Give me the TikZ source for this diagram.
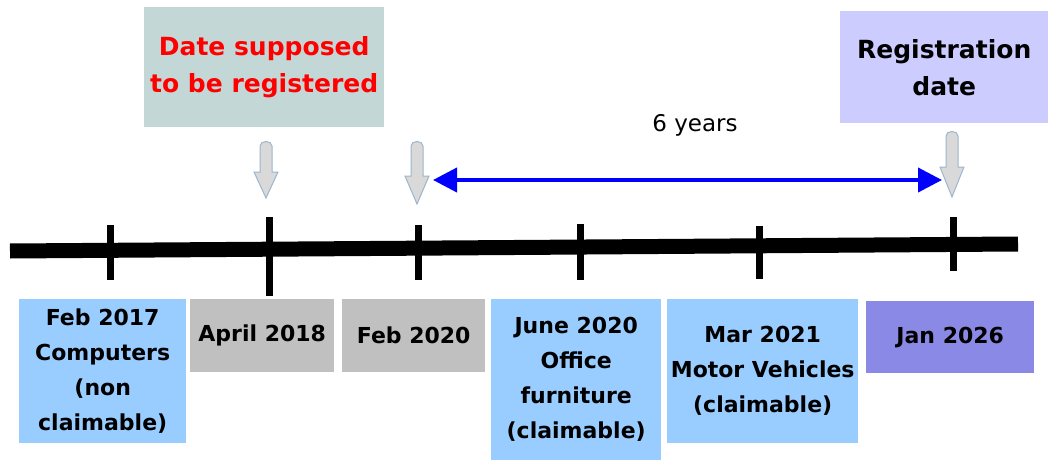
\documentclass[tikz,border=0pt]{standalone}
\usepackage{fontspec}
\setmainfont{DejaVu Sans}
\usetikzlibrary{arrows.meta}

\definecolor{notecyan}{HTML}{C3D7D7}
\definecolor{notelilac}{HTML}{CCCCFF}
\definecolor{claimblue}{HTML}{99CCFF}
\definecolor{pastgray}{HTML}{C0C0C0}
\definecolor{nowviolet}{HTML}{8A8AE6}
\definecolor{arrowgray}{HTML}{D9D9D9}
\definecolor{arrowedge}{HTML}{9DB5CC}

\begin{document}
\begin{tikzpicture}[x=1pt, y=-1pt]
    \tikzstyle{datebox} = [shape=rectangle, align=center, anchor=north west, inner sep=0pt, font=\bfseries\fontsize{22}{35}\selectfont]
    \tikzstyle{notebox} = [datebox, font=\bfseries\fontsize{25}{37}\selectfont]
    \tikzstyle{blockarr} = [fill=arrowgray, draw=arrowedge, line width=1pt]
    \tikzstyle{spanarrow} = [blue, line width=4pt, {Triangle[length=24pt, width=24pt]}-{Triangle[length=24pt, width=24pt]}]

    \useasboundingbox (0,0) rectangle (1050,460);

    \node[notebox, fill=notecyan, text=red, minimum width=240pt, minimum height=120pt] (supposed) at (144,7) {Date supposed\\to be registered};
    \node[notebox, fill=notelilac, minimum width=208pt, minimum height=112pt] (regdate) at (840,11) {Registration\\date};

    % pointers down to the timeline
    \foreach \x/\ya/\yb/\hd in {266/140/198/26, 417/140/204/28, 952/130/197/30}
        \draw[blockarr] (\x,\yb) -- (\x-12,\yb-\hd) -- (\x-6,\yb-\hd) -- (\x-6,\ya+6)
            .. controls (\x-6,\ya) and (\x+6,\ya) .. (\x+6,\ya+6) -- (\x+6,\yb-\hd) -- (\x+12,\yb-\hd) -- cycle;

    \coordinate (sixl) at (433,180);
    \coordinate (sixr) at (942,180);
    \draw[spanarrow] (sixl) -- (sixr);
    \node[font=\fontsize{23}{28}\selectfont] (sixyears) at (695,125) {6 years};

    % timeline
    \coordinate (tlstart) at (10,251);
    \coordinate (tlend)   at (1018,244);
    \draw[line width=15pt] (tlstart) -- (tlend);
    \foreach \x/\ya/\yb in {110/225/280, 269/217/296, 418/225/280, 580/224/280, 759/226/279, 953/217/271}
        \draw[line width=7pt] (\x,\ya) -- (\x,\yb);

    \node[datebox, fill=claimblue, minimum width=167pt, minimum height=144pt] (feb17) at (19,299)  {Feb 2017\\Computers\\(non\\claimable)};
    \node[datebox, fill=pastgray,  minimum width=144pt, minimum height=73pt]  (apr18) at (190,299) {April 2018};
    \node[datebox, fill=pastgray,  minimum width=143pt, minimum height=73pt]  (feb20) at (342,299) {Feb 2020};
    \node[datebox, fill=claimblue, minimum width=170pt, minimum height=161pt] (jun20) at (491,299) {June 2020\\Office\\furniture\\(claimable)};
    \node[datebox, fill=claimblue, minimum width=191pt, minimum height=144pt] (mar21) at (667,299) {Mar 2021\\Motor Vehicles\\(claimable)};
    \node[datebox, fill=nowviolet, minimum width=168pt, minimum height=72pt]  (jan26) at (866,301) {Jan 2026};
\end{tikzpicture}
\end{document}
